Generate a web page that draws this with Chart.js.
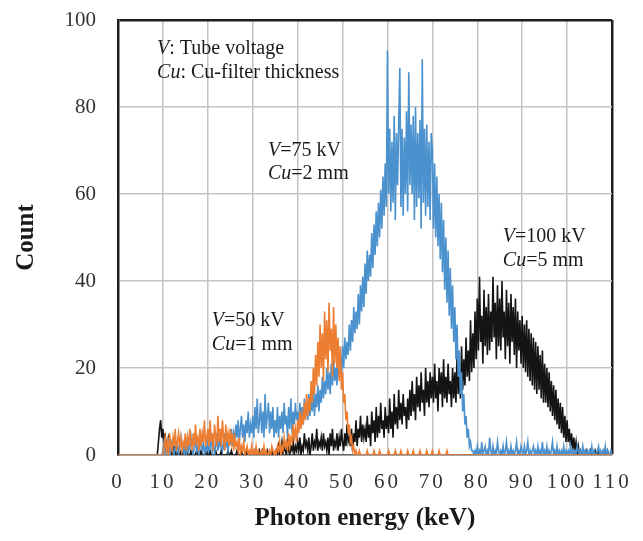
<!DOCTYPE html>
<html>
<head>
<meta charset="utf-8">
<script src="https://cdn.jsdelivr.net/npm/chart.js@4.4.0/dist/chart.umd.min.js"></script>
<style>
  html, body { margin: 0; padding: 0; background: #fff; }
</style>
</head>
<body>
<canvas id="spectrum" width="643" height="541"></canvas>
<script>
// Photon counts per 0.25 keV bin (0 to 110 keV).
// Each row holds 5 keV (20 bins); the comment gives the row's first energy.
const binWidth = 0.25;
const xTicks = [0, 10, 20, 30, 40, 50, 60, 70, 80, 90, 100, 110];
const yTicks = [0, 20, 40, 60, 80, 100];

const count50kV = [
    0,0,0,0,0,0,0,0,0,0,0,0,0,0,0,0,0,0,0,0,             // 0
    0,0,0,0,0,0,0,0,0,0,0,0,0,0,0,0,0,0,0,0,             // 5
    0,2,4,1,3,0,5,2,1,4,2,6,1,3,5,2,4,1,3,2,             // 10
    5,1,4,2,6,3,1,5,2,7,3,4,1,6,2,5,3,8,2,4,             // 15
    6,2,8,3,5,1,7,4,2,9,3,6,2,8,4,1,7,3,5,2,             // 20
    6,3,5,1,4,2,3,1,4,0,2,1,3,0,1,2,0,1,0,2,             // 25
    0,1,0,2,0,1,0,0,1,0,2,0,1,0,0,1,0,2,1,0,             // 30
    1,0,2,1,3,0,2,1,4,2,3,1,5,2,4,3,7,4,6,3,             // 35
    8,5,10,6,9,7,12,8,14,9,13,10,17,12,20,14,23,16,26,18, // 40
    30,20,28,17,33,22,31,19,35,24,29,18,34,21,30,20,27,17,25,15, // 45
    19,12,14,8,10,5,7,3,4,1,2,0,1,0,0,1,0,0,0,0,         // 50
    0,0,1,0,0,0,0,0,1,0,0,0,0,1,0,0,0,0,0,0,             // 55
    0,1,0,0,0,0,0,1,0,0,0,0,1,0,0,0,0,0,1,0,             // 60
    0,0,0,1,0,0,0,0,0,1,0,0,0,0,0,1,0,0,0,0,             // 65
    1,0,0,0,0,0,1,0,0,0,0,0,0,1,0,0,0,0,0,0,             // 70
    0,0,0,0,0,0,0,0,0,0,0,0,0,0,0,0,0,0,0,0,             // 75
    0,0,0,0,0,0,0,0,0,0,0,0,0,0,0,0,0,0,0,0,             // 80
    0,0,0,0,0,0,0,0,0,0,0,0,0,0,0,0,0,0,0,0,             // 85
    0,0,0,0,0,0,0,0,0,0,0,0,0,0,0,0,0,0,0,0,             // 90
    0,0,0,0,0,0,0,0,0,0,0,0,0,0,0,0,0,0,0,0,             // 95
    0,0,0,0,0,0,0,0,0,0,0,0,0,0,0,0,0,0,0,0,             // 100
    0,0,0,0,0,0,0,0,0,0,0,0,0,0,0,0,0,0,0,0,             // 105
    0
];

const count75kV = [
    0,0,0,0,0,0,0,0,0,0,0,0,0,0,0,0,0,0,0,0,             // 0
    0,0,0,0,0,0,0,0,0,0,0,0,0,0,0,0,0,0,0,0,             // 5
    1,3,0,2,1,4,0,2,3,1,0,2,1,3,0,2,4,1,2,0,             // 10
    2,0,3,1,2,4,1,0,2,3,1,2,0,4,2,1,3,0,2,1,             // 15
    3,1,2,4,1,3,0,2,5,1,3,2,4,1,2,5,2,3,1,4,             // 20
    3,6,2,5,3,7,4,8,3,6,9,4,7,3,8,5,10,4,7,5,            // 25
    9,4,11,6,13,5,8,12,5,10,4,14,6,9,12,5,10,6,11,4,     // 30
    8,5,11,4,9,6,10,5,12,7,9,4,11,6,13,5,10,7,12,8,      // 35
    10,6,12,8,11,7,13,9,12,8,14,9,13,10,15,9,14,11,16,10, // 40
    15,12,18,13,17,14,20,15,19,14,21,16,22,17,20,16,24,18,23,19, // 45
    25,20,27,22,26,23,30,24,31,26,34,28,33,29,37,30,39,33,41,34, // 50
    44,37,47,40,46,41,51,43,53,46,56,48,58,50,61,52,64,55,67,57, // 55
    93,60,75,56,72,58,78,54,74,62,76,89,57,75,55,73,60,79,56,88, // 60
    62,76,60,78,54,80,57,74,59,77,52,91,58,75,55,76,57,72,54,74, // 65
    70,52,67,50,64,48,60,45,58,42,54,38,50,35,47,32,43,29,39,26, // 70
    34,22,30,18,24,14,19,10,14,7,9,4,6,2,3,1,1,0,1,0,    // 75
    2,0,1,0,3,0,1,2,0,1,0,4,1,0,2,0,1,0,3,1,             // 80
    0,1,0,2,0,1,3,0,1,0,2,0,1,0,1,3,0,1,0,2,             // 85
    1,0,2,0,1,3,0,1,0,1,2,0,1,0,2,0,1,0,3,0,             // 90
    1,0,2,0,1,0,1,3,0,1,0,2,0,1,0,1,0,2,0,1,             // 95
    0,1,0,2,0,1,0,1,0,2,1,0,1,0,2,0,1,0,1,0,             // 100
    1,0,2,0,1,0,0,1,2,0,1,0,1,0,2,0,1,0,0,1,             // 105
    0
];

const count100kV = [
    0,0,0,0,0,0,0,0,0,0,0,0,0,0,0,0,0,0,0,0,             // 0
    0,0,0,0,0,0,0,0,0,0,0,0,0,0,0,0,3,6,8,4,             // 5
    6,2,5,1,3,4,1,2,0,1,2,0,1,0,0,1,0,0,1,0,             // 10
    0,1,0,0,0,1,0,0,0,0,1,0,0,0,1,0,0,0,0,1,             // 15
    0,0,1,0,0,0,0,1,0,0,0,0,1,0,0,0,0,0,1,0,             // 20
    0,1,0,0,0,0,1,0,0,0,1,0,0,0,0,1,0,0,0,0,             // 25
    0,0,1,0,0,0,1,0,0,1,0,0,0,1,0,0,0,1,0,0,             // 30
    0,1,0,2,0,1,3,0,2,1,0,3,1,0,2,1,3,0,2,1,             // 35
    3,1,4,0,2,1,5,2,3,1,4,0,2,5,1,3,2,6,1,3,             // 40
    2,4,1,5,2,3,1,4,0,5,2,6,1,3,2,5,1,4,2,6,             // 45
    3,1,5,2,7,3,4,2,6,1,5,3,8,2,6,4,9,3,7,4,             // 50
    6,3,9,4,7,2,10,5,8,3,11,4,9,5,12,6,8,4,11,6,         // 55
    9,5,13,6,10,4,14,7,11,6,15,8,12,7,14,9,11,6,13,8,    // 60
    15,9,17,10,14,8,18,11,16,10,19,12,15,9,20,12,17,11,19,13, // 65
    18,12,21,13,17,10,20,14,19,11,22,13,18,12,21,14,17,11,20,13, // 70
    19,12,23,14,18,13,25,15,22,16,27,18,24,17,31,19,28,20,33,22, // 75
    36,24,41,26,32,21,38,25,34,23,37,24,33,26,41,27,35,22,39,25, // 80
    36,24,40,27,33,22,38,25,35,21,37,26,34,23,36,20,33,24,31,21, // 85
    32,20,30,19,31,18,29,17,28,16,27,15,26,14,25,15,23,13,24,12, // 90
    21,12,20,11,19,10,17,9,16,8,15,7,13,6,12,5,11,4,9,3, // 95
    8,3,6,2,5,1,4,1,3,0,2,0,1,0,1,0,0,1,0,0,             // 100
    0,1,0,0,0,1,0,0,1,0,0,0,0,1,0,0,1,0,0,0,             // 105
    0
];

// text labels inside the plot, placed in data units (keV, count)
const notes = [
    { x: 8.7,  y: 92.2, parts: [['V', true], [': Tube voltage', false]] },
    { x: 8.7,  y: 86.7, parts: [['Cu', true], [': Cu-filter thickness', false]] },
    { x: 33.4, y: 68.7, parts: [['V', true], ['=75 kV', false]] },
    { x: 33.4, y: 63.4, parts: [['Cu', true], ['=2 mm', false]] },
    { x: 20.9, y: 29.7, parts: [['V', true], ['=50 kV', false]] },
    { x: 20.9, y: 24.2, parts: [['Cu', true], ['=1 mm', false]] },
    { x: 85.7, y: 49.0, parts: [['V', true], ['=100 kV', false]] },
    { x: 85.7, y: 43.5, parts: [['Cu', true], ['=5 mm', false]] }
];

const toPoints = arr => arr.map((v, i) => ({ x: i * binWidth, y: v }));

const SERIF = '"Liberation Serif", "Times New Roman", serif';
const GRID = '#c4c4c4';
const FRAME = '#1e1e1e';

const notesPlugin = {
    id: 'notes',
    afterLayout(chart) {
        // the x tick numbers are printed with wide letter spacing
        const s = chart.scales.x;
        if (s._spaced) return;
        const orig = s.drawLabels;
        s.drawLabels = function (area) {
            this.ctx.save();
            this.ctx.letterSpacing = '3px';
            orig.call(this, area);
            this.ctx.restore();
        };
        s._spaced = true;
    },
    afterDatasetsDraw(chart) {
        const { ctx, scales: { x, y } } = chart;
        ctx.save();
        ctx.fillStyle = '#1a1a1a';
        ctx.textBaseline = 'alphabetic';
        ctx.textAlign = 'left';
        notes.forEach(n => {
            let px = x.getPixelForValue(n.x);
            const py = y.getPixelForValue(n.y);
            n.parts.forEach(([text, italic]) => {
                ctx.font = (italic ? 'italic ' : '') + '20px ' + SERIF;
                ctx.fillText(text, px, py);
                px += ctx.measureText(text).width;
            });
        });
        ctx.restore();
    }
};

new Chart(document.getElementById('spectrum'), {
    type: 'line',
    data: {
        datasets: [{
            label: 'V=50 kV, Cu=1 mm',
            data: toPoints(count50kV),
            borderColor: 'rgb(237, 125, 49)',
            borderWidth: 1.6
        },
        {
            label: 'V=75 kV, Cu=2 mm',
            data: toPoints(count75kV),
            borderColor: 'rgb(74, 145, 205)',
            borderWidth: 1.6
        },
        {
            label: 'V=100 kV, Cu=5 mm',
            data: toPoints(count100kV),
            borderColor: 'rgb(20, 20, 20)',
            borderWidth: 1.6
        }]
    },
    options: {
        responsive: false,
        animation: false,
        devicePixelRatio: 1,
        layout: { padding: { top: 20, right: 31, left: 0, bottom: 0 } },
        elements: { point: { radius: 0 }, line: { tension: 0 } },
        plugins: { legend: { display: false }, tooltip: { enabled: false } },
        scales: {
            x: {
                type: 'linear',
                min: 0,
                max: 110,
                afterBuildTicks: s => { s.ticks = xTicks.map(v => ({ value: v })); },
                afterFit: s => { s.height = 86; },
                ticks: {
                    autoSkip: false,
                    maxRotation: 0,
                    padding: 15,
                    color: '#333',
                    font: { family: SERIF, size: 21 }
                },
                grid: {
                    drawTicks: false,
                    color: c => (c.tick && c.tick.value === 110) ? FRAME : GRID,
                    lineWidth: c => (c.tick && c.tick.value === 110) ? 2.5 : 1.5
                },
                border: { color: '#666', width: 1.5 },
                title: {
                    display: true,
                    text: 'Photon energy (keV)',
                    color: '#1a1a1a',
                    font: { family: SERIF, size: 25, weight: 'bold' },
                    padding: { top: 0, bottom: 7 }
                }
            },
            y: {
                min: 0,
                max: 100,
                afterBuildTicks: s => { s.ticks = yTicks.map(v => ({ value: v })); },
                afterFit: s => {
                    s.width = 118;
                    // keep the label padding from pushing the plot down
                    s.paddingTop = 0;
                    s.paddingBottom = 0;
                },
                ticks: {
                    padding: 22,
                    color: '#333',
                    font: { family: SERIF, size: 21 }
                },
                grid: {
                    drawTicks: false,
                    color: c => (c.tick && c.tick.value === 100) ? FRAME : GRID,
                    lineWidth: c => (c.tick && c.tick.value === 100) ? 2.5 : 1.5
                },
                border: { color: FRAME, width: 2.5 },
                title: {
                    display: true,
                    text: 'Count',
                    color: '#1a1a1a',
                    font: { family: SERIF, size: 25, weight: 'bold' },
                    padding: { top: 12, bottom: 0 }
                }
            }
        }
    },
    plugins: [notesPlugin]
});
</script>
</body>
</html>
